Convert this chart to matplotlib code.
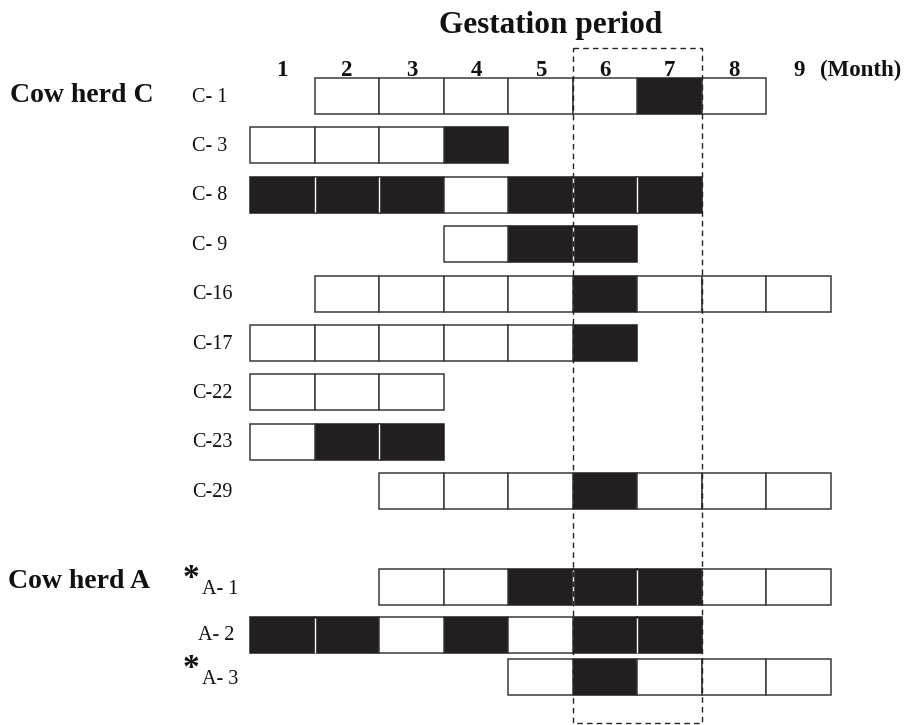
import matplotlib
matplotlib.use("Agg")
import matplotlib.pyplot as plt
from matplotlib.patches import Rectangle

plt.rcParams['font.family'] = ['Liberation Serif', 'DejaVu Serif']

# ---------------- data ----------------
months = [1, 2, 3, 4, 5, 6, 7, 8, 9]
cows = ["C- 1", "C- 3", "C- 8", "C- 9", "C-16", "C-17", "C-22", "C-23", "C-29",
        "A- 1", "A- 2", "A- 3"]
herd = ["C"] * 9 + ["A"] * 3
first_month = [2, 1, 1, 4, 2, 1, 1, 1, 3, 3, 1, 5]
last_month = [8, 4, 7, 6, 9, 6, 3, 3, 9, 9, 7, 9]
positive_months = [[7], [4], [1, 2, 3, 5, 6, 7], [5, 6], [6], [6], [], [2, 3], [6],
                   [5, 6, 7], [1, 2, 4, 6, 7], [6]]
starred = [False] * 9 + [True, False, True]
highlight_months = [6, 7]
herd_titles = {"C": "Cow herd C", "A": "Cow herd A"}
title = "Gestation period"

# ---------------- layout ----------------
W, H = 912, 725
cell_px = 64.56
x0_px = 250.0
fig = plt.figure(figsize=(W / 100, H / 100), dpi=100)
ax = fig.add_axes([0, 0, 1, 1])
ax.set_xlim(-x0_px / cell_px, (W - x0_px) / cell_px)   # month m spans [m-1, m]
ax.set_ylim(H, 0)                                       # vertical in pixel rows
ax.axis('off')

row_y = [96 + i * 49.4 for i in range(9)] + [587, 635, 677]
box_h = 36
black = '#231f20'
edge = '#3a3a3a'
txt = '#111111'

for i, cow in enumerate(cows):
    yc = row_y[i]
    ms = list(range(first_month[i], last_month[i] + 1))
    pos = positive_months[i]
    for m in ms:
        if m in pos:
            ax.add_patch(Rectangle((m - 1, yc - box_h / 2), 1, box_h,
                                   facecolor=black, edgecolor=black, lw=1.1, zorder=2))
    # white separators between adjacent black cells
    for m in ms:
        if m in pos and (m + 1) in pos:
            ax.plot([m, m], [yc - box_h / 2 + 0.5, yc + box_h / 2 - 0.5],
                    color='white', lw=1.0, zorder=2.5, solid_capstyle='butt')
    for m in ms:
        if m not in pos:
            ax.add_patch(Rectangle((m - 1, yc - box_h / 2), 1, box_h,
                                   facecolor='white', edgecolor=edge, lw=1.1, zorder=3))
    # labels
    if herd[i] == "C":
        ax.text(-58 / cell_px, yc + 1, cow, fontsize=14.5, ha='left', va='center', color=txt)
    else:
        if starred[i]:
            ax.text(-48 / cell_px, yc + 3, cow, fontsize=14.5, ha='left', va='center', color=txt)
            ax.text(-67 / cell_px, yc - 8, "*", fontsize=24, ha='left', va='center',
                    color=txt, fontweight='bold')
        else:
            ax.text(-52 / cell_px, yc + 1, cow, fontsize=14.5, ha='left', va='center', color=txt)

# herd titles
ax.text(-240 / cell_px, row_y[0] - 1, herd_titles["C"], fontsize=20, fontweight='bold',
        ha='left', va='center', color=txt)
ax.text(-242 / cell_px, 582, herd_titles["A"], fontsize=20, fontweight='bold',
        ha='left', va='center', color=txt)

# month header
for m in months:
    ax.text(m - 0.5, 70, str(m), fontsize=16.5, fontweight='bold', ha='center', va='center',
            color=txt)
ax.text((820 - x0_px) / cell_px, 70, "(Month)", fontsize=16.5, fontweight='bold',
        ha='left', va='center', color=txt)

# title
ax.text((551 - x0_px) / cell_px, 25, title, fontsize=22.5, fontweight='bold',
        ha='center', va='center', color=txt)

# dashed highlight box
hx0 = min(highlight_months) - 1
hx1 = max(highlight_months)
ax.add_patch(Rectangle((hx0, 48), hx1 - hx0, 723 - 48, facecolor='none',
                       edgecolor='#222', lw=1.0, linestyle=(0, (4, 3)), zorder=5))

fig.savefig("out.png", dpi=100)
